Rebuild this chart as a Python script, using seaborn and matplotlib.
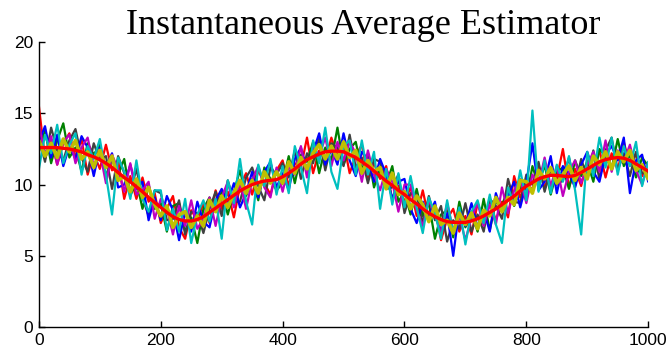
import numpy as np
import pandas as pd
import matplotlib
matplotlib.use("Agg")
import matplotlib.pyplot as plt
import seaborn as sns

# sample positions (every 10 steps)
x_vals = list(range(0, 1001, 10))

# red line: the average estimate
mean_curve = [12.6, 12.6, 12.6, 12.6, 12.55, 12.5, 12.4, 12.3, 12.1, 11.95,
              11.75, 11.5, 11.2, 10.85, 10.5, 10.2, 9.85, 9.5, 9.1, 8.75,
              8.4, 8.05, 7.75, 7.55, 7.45, 7.45, 7.55, 7.75, 8.05, 8.35,
              8.65, 8.95, 9.25, 9.55, 9.8, 10.0, 10.15, 10.25, 10.3, 10.35,
              10.55, 10.8, 11.1, 11.45, 11.75, 11.95, 12.15, 12.3, 12.35, 12.35,
              12.3, 12.1, 11.9, 11.6, 11.3, 10.95, 10.6, 10.25, 9.95, 9.6,
              9.3, 8.95, 8.65, 8.3, 8.0, 7.75, 7.55, 7.4, 7.35, 7.35,
              7.35, 7.45, 7.6, 7.8, 8.05, 8.3, 8.6, 8.9, 9.2, 9.55,
              9.9, 10.15, 10.4, 10.55, 10.65, 10.65, 10.6, 10.55, 10.65, 10.85,
              11.1, 11.35, 11.6, 11.75, 11.85, 11.9, 11.85, 11.7, 11.45, 11.2,
              10.95]

# noisy realisations
trace_red = [15.5, 11.8, 13.2, 11.4, 12.9, 13.6, 11.9, 13.2, 10.7, 12.2,
             11.1, 12.8, 11.0, 11.7, 9.0, 10.6, 9.0, 10.5, 8.8, 9.4,
             7.3, 8.3, 9.2, 7.0, 6.2, 8.2, 7.5, 8.7, 7.3, 9.6,
             8.3, 9.5, 7.7, 9.9, 10.8, 9.3, 11.0, 10.1, 9.3, 11.0,
             11.7, 9.9, 11.5, 11.2, 13.3, 10.8, 12.4, 11.7, 13.3, 12.0,
             13.0, 10.8, 12.0, 12.8, 10.5, 11.5, 10.4, 11.3, 8.9, 9.9,
             8.8, 9.8, 7.8, 9.6, 7.6, 8.4, 6.1, 7.6, 8.3, 6.7,
             7.8, 6.5, 8.7, 7.5, 8.8, 7.5, 8.8, 7.7, 10.6, 9.1,
             10.2, 9.6, 11.4, 9.7, 11.2, 10.4, 12.5, 9.8, 11.1, 9.9,
             11.7, 11.2, 12.4, 10.5, 12.2, 11.0, 13.0, 11.3, 12.2, 10.6,
             11.5]
trace_green = [12.3, 13.8, 11.5, 13.1, 14.3, 11.9, 12.6, 10.9, 12.9, 12.1,
               12.8, 10.6, 11.8, 10.7, 11.8, 9.2, 10.3, 8.3, 10.0, 8.3,
               8.7, 6.7, 8.5, 8.7, 6.7, 7.7, 5.9, 8.3, 9.1, 8.1,
               9.5, 7.9, 9.5, 11.0, 9.2, 10.4, 8.9, 11.2, 10.4, 9.6,
               10.1, 12.0, 10.1, 12.1, 11.6, 13.0, 10.8, 12.6, 11.7, 14.0,
               11.4, 12.5, 13.0, 11.0, 12.2, 9.8, 11.1, 10.0, 11.3, 8.8,
               9.5, 7.9, 9.7, 7.8, 8.7, 6.2, 7.9, 8.2, 6.3, 8.8,
               7.0, 8.1, 6.7, 9.0, 6.8, 8.8, 8.5, 9.8, 8.5, 9.9,
               8.9, 11.3, 9.9, 11.4, 9.3, 10.9, 11.2, 9.7, 11.7, 10.6,
               11.6, 10.2, 12.5, 12.0, 11.1, 13.2, 11.3, 12.1, 10.5, 11.9,
               11.3]
trace_gray = [13.3, 11.6, 14.0, 12.4, 11.7, 13.1, 13.9, 11.9, 10.9, 12.9,
              11.7, 12.0, 9.7, 12.0, 10.8, 9.5, 11.1, 9.1, 7.8, 9.6,
              9.4, 7.5, 7.6, 8.9, 6.5, 8.1, 8.0, 6.6, 8.3, 9.5,
              7.8, 10.3, 8.8, 8.8, 10.5, 11.2, 9.9, 8.9, 11.2, 10.7,
              11.5, 10.5, 12.4, 10.4, 12.2, 11.5, 13.3, 11.0, 12.9, 12.6,
              11.3, 13.5, 11.2, 11.9, 10.1, 11.8, 11.6, 9.7, 9.8, 10.7,
              8.0, 9.4, 9.3, 7.3, 9.2, 7.5, 8.5, 6.0, 7.5, 6.9,
              8.7, 6.7, 7.9, 6.7, 9.0, 8.5, 7.6, 10.4, 8.8, 8.7,
              10.7, 10.0, 11.6, 9.5, 11.1, 10.0, 10.3, 11.9, 9.9, 11.8,
              10.5, 12.4, 10.4, 12.4, 13.3, 11.0, 12.2, 10.6, 12.3, 10.8,
              10.8]
trace_blue = [13.0, 14.1, 11.9, 13.5, 11.3, 12.7, 11.8, 13.4, 12.6, 10.6,
              12.6, 11.2, 12.2, 9.8, 10.0, 11.4, 9.7, 10.2, 7.5, 9.1,
              7.5, 9.2, 8.2, 6.1, 8.1, 6.7, 8.8, 7.4, 7.0, 8.9,
              9.7, 8.8, 10.1, 8.4, 9.4, 10.9, 9.1, 10.9, 11.6, 9.8,
              10.8, 9.6, 11.8, 12.6, 11.0, 12.3, 13.6, 11.4, 12.5, 11.4,
              13.6, 11.7, 10.6, 12.3, 11.8, 10.2, 11.8, 10.7, 9.0, 10.2,
              10.4, 8.3, 7.3, 8.8, 7.8, 8.8, 6.5, 8.0, 5.0, 8.3,
              7.1, 8.7, 7.0, 8.2, 6.7, 9.4, 8.1, 9.2, 10.2, 8.4,
              10.1, 12.9, 9.6, 10.2, 12.0, 9.4, 11.3, 10.8, 9.8, 11.4,
              12.3, 10.9, 10.2, 12.1, 12.7, 11.7, 13.3, 9.4, 11.7, 12.1,
              10.2]
trace_magenta = [14.2, 12.1, 13.4, 11.4, 13.0, 13.5, 11.5, 12.6, 13.3, 11.3,
                 12.3, 10.1, 12.1, 11.1, 9.5, 11.5, 9.3, 9.6, 10.2, 7.6,
                 9.0, 8.3, 6.5, 8.5, 7.1, 8.9, 6.9, 7.6, 9.1, 7.1,
                 9.1, 10.2, 8.4, 10.2, 8.3, 10.3, 11.3, 9.8, 9.1, 11.2,
                 9.5, 11.3, 10.7, 12.7, 10.5, 12.7, 12.0, 13.3, 11.3, 13.0,
                 11.7, 13.0, 12.2, 10.2, 12.4, 10.7, 9.6, 11.1, 10.2, 8.1,
                 10.0, 10.0, 8.2, 7.1, 8.9, 7.9, 6.6, 8.7, 6.8, 7.8,
                 6.1, 7.7, 8.7, 7.1, 8.6, 7.2, 9.8, 8.0, 9.6, 10.4,
                 8.7, 10.7, 10.0, 11.9, 9.9, 11.3, 9.2, 10.9, 11.7, 10.1,
                 11.4, 12.3, 10.9, 13.1, 10.9, 12.4, 11.6, 12.8, 11.0, 10.0,
                 11.6]
trace_cyan = [11.1, 13.5, 12.2, 14.2, 11.5, 12.8, 13.6, 10.7, 12.7, 11.8,
              13.2, 10.7, 7.9, 11.9, 10.9, 9.0, 11.7, 9.0, 8.1, 9.6,
              9.6, 6.8, 8.3, 6.7, 9.0, 5.9, 7.9, 8.9, 7.4, 9.0,
              6.2, 10.3, 8.7, 11.8, 8.8, 7.2, 11.4, 9.9, 11.8, 9.3,
              11.3, 9.4, 12.7, 11.2, 9.4, 13.1, 11.5, 14.0, 10.9, 9.7,
              12.7, 13.1, 10.7, 13.1, 10.7, 12.3, 8.3, 11.1, 8.6, 10.8,
              8.4, 10.6, 8.4, 6.6, 9.1, 8.0, 6.2, 8.9, 6.6, 8.4,
              5.8, 8.1, 8.9, 7.3, 9.3, 7.2, 5.9, 9.8, 8.6, 11.0,
              8.9, 15.2, 9.5, 11.7, 9.4, 11.4, 10.2, 12.0, 9.6, 6.5,
              12.3, 10.6, 13.3, 11.2, 13.3, 10.7, 12.7, 11.3, 13.0, 9.9,
              11.6]
trace_yellow = [13.1, 12.0, 12.9, 11.9, 13.2, 12.3, 13.1, 11.8, 12.3, 11.2,
                12.4, 11.2, 12.0, 10.3, 10.6, 9.5, 10.4, 9.1, 9.8, 8.6,
                7.8, 8.5, 7.0, 7.9, 8.1, 7.0, 7.8, 7.1, 8.9, 8.1,
                9.2, 8.4, 9.4, 10.3, 9.4, 10.3, 9.4, 10.9, 10.1, 10.9,
                10.1, 11.6, 10.8, 11.9, 11.1, 12.2, 12.8, 11.8, 12.7, 11.8,
                13.0, 11.9, 12.4, 10.8, 11.7, 10.9, 11.2, 9.7, 10.8, 9.3,
                9.5, 8.3, 9.2, 8.6, 7.4, 8.5, 7.2, 7.5, 6.6, 8.0,
                7.2, 8.0, 6.9, 8.2, 7.8, 9.1, 8.1, 9.1, 8.6, 10.3,
                10.2, 9.4, 11.0, 10.4, 11.2, 10.1, 10.7, 11.3, 10.3, 11.2,
                10.4, 12.0, 11.4, 12.3, 11.1, 12.3, 11.6, 12.4, 11.0, 11.4,
                10.4]

# plotting order (last one ends up on top), old MATLAB colour order
trace_names = ["r", "g", "k", "b", "m", "c", "y"]
trace_values = [trace_red, trace_green, trace_gray, trace_blue,
                trace_magenta, trace_cyan, trace_yellow]
trace_colors = {"r": (1, 0, 0), "g": (0, 0.5, 0), "k": (0.25, 0.25, 0.25),
                "b": (0, 0, 1), "m": (0.75, 0, 0.75), "c": (0, 0.75, 0.75),
                "y": (0.75, 0.75, 0)}
trace_widths = {"r": 1.6, "g": 1.6, "k": 1.6, "b": 1.6, "m": 1.6, "c": 1.6,
                "y": 2.6}

sns.set_style("ticks")
plt.rcParams["font.family"] = ["Liberation Sans", "DejaVu Sans"]

fig = plt.figure(figsize=(6.71, 3.54), dpi=100)
ax = fig.add_axes([0.058, 0.076, 0.908, 0.805])

for name, vals in zip(trace_names, trace_values):
    df = pd.DataFrame({"x": x_vals, "y": vals})
    sns.lineplot(data=df, x="x", y="y", color=trace_colors[name],
                 linewidth=trace_widths[name], estimator=None, ax=ax)

mean_df = pd.DataFrame({"x": x_vals, "y": mean_curve})
sns.lineplot(data=mean_df, x="x", y="y", color=(1, 0, 0), linewidth=2.4,
             estimator=None, ax=ax)

ax.set_xlim(0, 1000)
ax.set_ylim(0, 20)
ax.set_xticks([0, 200, 400, 600, 800, 1000])
ax.set_yticks([0, 5, 10, 15, 20])
ax.set_xlabel("")
ax.set_ylabel("")
ax.tick_params(direction="in", length=4, width=1, labelsize=12.5, pad=4,
               colors="black")
sns.despine(ax=ax)
for s in ["left", "bottom"]:
    ax.spines[s].set_color("black")
    ax.spines[s].set_linewidth(1)

fig.text(0.541, 0.928, "Instantaneous Average Estimator", ha="center",
         va="center", fontsize=26, color="black", family="Liberation Serif")

fig.savefig("out.png", dpi=100)
